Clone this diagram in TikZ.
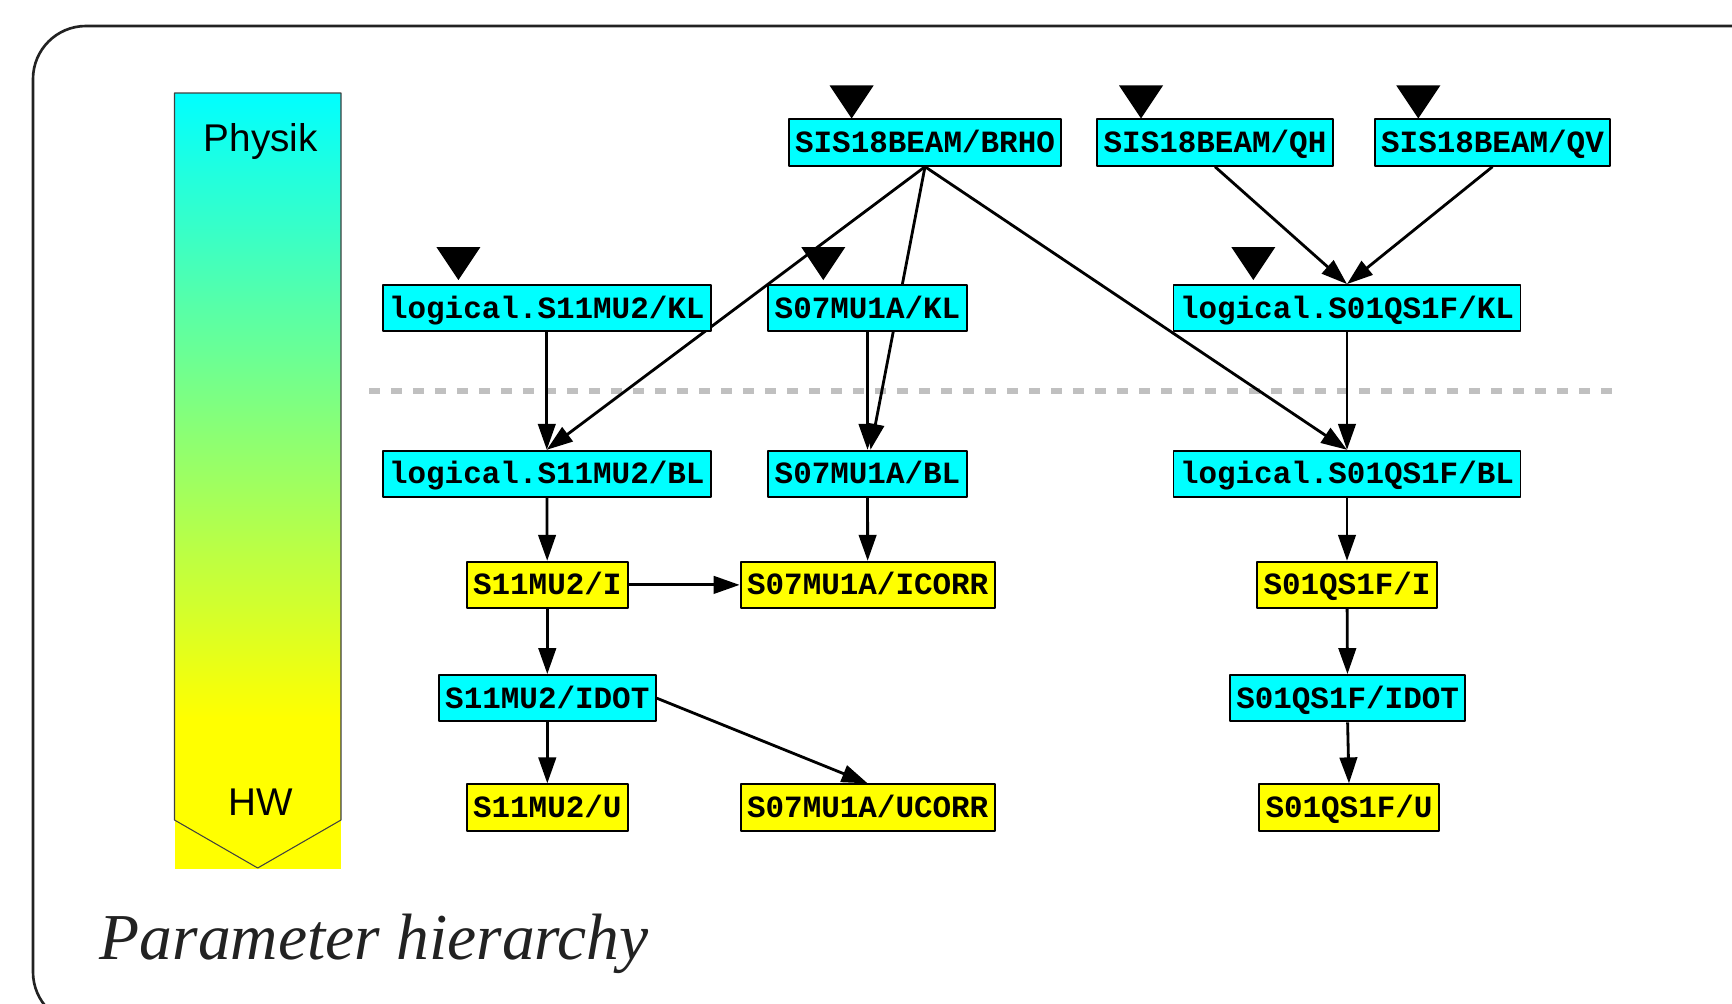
\documentclass[tikz,border=0pt]{standalone}
\usepackage{fontspec}
\usepackage{tikz}
\usetikzlibrary{arrows.meta}
\usetikzlibrary{backgrounds}
\newfontfamily\boxfont{Liberation Mono}
\newfontfamily\barfont{Liberation Sans}
\newfontfamily\titlefont{Liberation Serif}
\definecolor{frameline}{HTML}{222222}
\definecolor{sepgray}{HTML}{C0C0C0}
\definecolor{physcyan}{RGB}{0,255,255}
\definecolor{hwyellow}{RGB}{255,255,0}
\tikzset{
  pbox/.style={draw=black,line width=1.1pt,text=black,inner xsep=0.13cm,inner ysep=0pt,
    minimum height=0.926cm,text height=0.4cm,text depth=0cm,
    font=\boxfont\bfseries\fontsize{17.6}{20}\selectfont},
  cpar/.style={pbox,fill=physcyan},
  ypar/.style={pbox,fill=hwyellow},
  link/.style={->,line width=1.6pt}
}
\begin{document}
\begin{tikzpicture}[line cap=round,line join=round,>={Triangle[length=0.52cm,width=0.35cm]},x=0.02cm,y=-0.02cm]
\useasboundingbox (0,0) rectangle (1732,1004);
\clip (0,0) rectangle (1732,1004);
% frame
\draw[line width=1.5pt,line cap=butt,color=frameline,rounded corners=1.06cm] (1800,26) -- (33,26) -- (33,1025) -- (1800,1025);
% Physik -> HW bar
\shade[top color=physcyan,bottom color=hwyellow] (174.5,93) rectangle (341,718);
\fill[color=hwyellow] (174.5,717) rectangle (341,869);
\draw[line width=0.6pt,color=black!75] (174.5,820) -- (174.5,93) -- (341,93) -- (341,820) -- (257.7,868) -- cycle;
\node[font=\barfont\fontsize{22}{26}\selectfont,anchor=base] (physik) at (260.7,151) {Physik};
\node[font=\barfont\fontsize{22}{26}\selectfont,anchor=base] (hw) at (260.7,815) {HW};
% parameters
\node[cpar] (brho) at (925,142.6) {SIS18BEAM/BRHO};
\node[cpar] (qh) at (1215,142.6) {SIS18BEAM/QH};
\node[cpar] (qv) at (1492.5,142.6) {SIS18BEAM/QV};
\node[cpar] (kl11) at (546.8,308.2) {logical.S11MU2/KL};
\node[cpar] (kl07) at (867.5,308.2) {S07MU1A/KL};
\node[cpar] (kl01) at (1347,308.2) {logical.S01QS1F/KL};
\node[cpar] (bl11) at (546.8,473.9) {logical.S11MU2/BL};
\node[cpar] (bl07) at (867.5,473.9) {S07MU1A/BL};
\node[cpar] (bl01) at (1347,473.9) {logical.S01QS1F/BL};
\node[ypar] (i11) at (547.3,584.9) {S11MU2/I};
\node[ypar] (icorr07) at (867.7,584.9) {S07MU1A/ICORR};
\node[ypar] (i01) at (1347,584.9) {S01QS1F/I};
\node[cpar] (idot11) at (547.3,698.2) {S11MU2/IDOT};
\node[cpar] (idot01) at (1347.6,698.2) {S01QS1F/IDOT};
\node[ypar] (u11) at (547.3,807.5) {S11MU2/U};
\node[ypar] (ucorr07) at (867.7,807.5) {S07MU1A/UCORR};
\node[ypar] (u01) at (1349,807.5) {S01QS1F/U};
% input marks
\foreach \n/\dx/\gap in {brho/-73.4/0,qh/-74/0,qv/-74.2/0,kl11/-88.4/4,kl07/-44.2/4,kl01/-93.7/4}
\fill[color=black] ([shift={(\dx,-\gap)}]\n.north) -- ++(-22,-33) -- ++(44,0) -- cycle;
% connections
\begin{pgfonlayer}{background}
\draw[line width=3pt,line cap=butt,color=sepgray,dash pattern=on 0.22cm off 0.22cm] (369,391) -- (1617,391);
\draw[link] (brho.south) -- (bl11.north);
\draw[link] (brho.south) -- ([xshift=0.06cm]bl07.north);
\draw[link] (brho.south) -- (bl01.north);
\draw[link] (qh.south) -- (kl01.north);
\draw[link] (qv.south) -- (kl01.north);
\draw[link] (kl11) -- (bl11);
\draw[link] (kl07) -- (bl07);
\draw[link] (kl01) -- (bl01);
\draw[link] (bl11) -- (i11);
\draw[link] (bl07) -- (icorr07);
\draw[link] (bl01) -- (i01);
\draw[link] (i11) -- (icorr07);
\draw[link] (i11) -- (idot11);
\draw[link] (i01) -- (idot01);
\draw[link] (idot11) -- (u11);
\draw[link] (idot11.east) -- (ucorr07.north);
\draw[link] (idot01.south) -- (u01.north);
\end{pgfonlayer}
% title
\node[anchor=base west,inner sep=0pt,text=frameline,font=\titlefont\itshape\fontsize{37.3}{44}\selectfont] (title) at (99.4,959) {Parameter hierarchy};
\end{tikzpicture}
\end{document}
